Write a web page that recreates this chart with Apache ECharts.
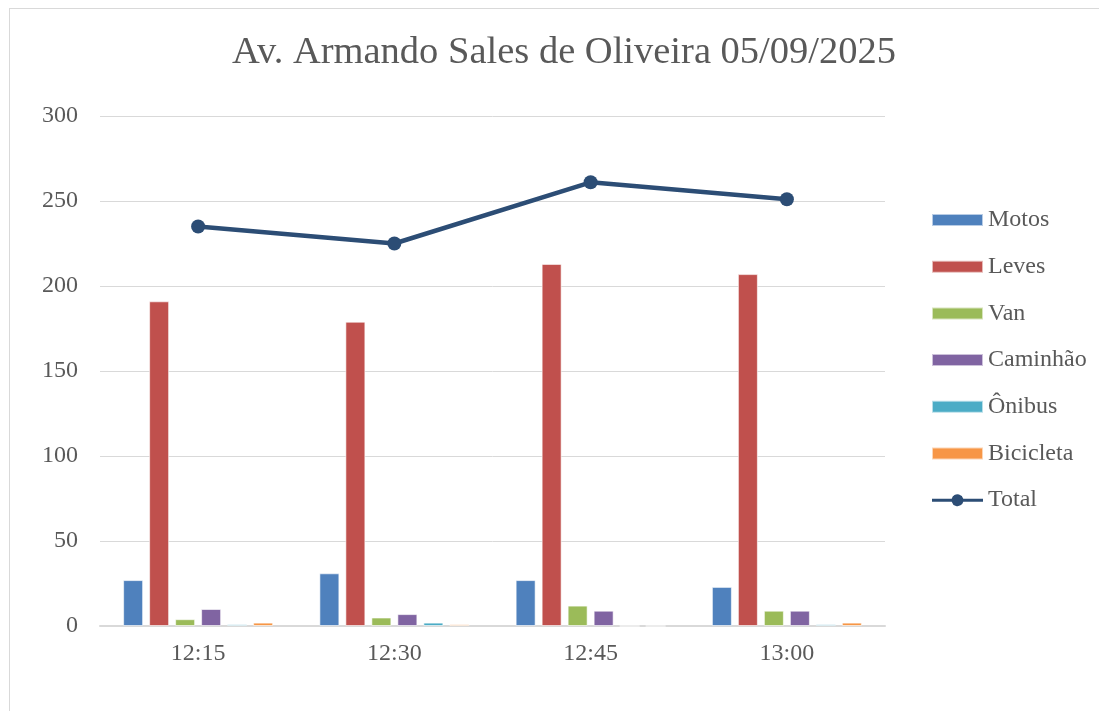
<!DOCTYPE html>
<html>
<head>
<meta charset="utf-8">
<script src="https://cdn.jsdelivr.net/npm/echarts@6/dist/echarts.min.js"></script>
<style>
  html, body { margin: 0; padding: 0; background: #fff; }
  #frame { position: absolute; left: 9px; top: 8px; width: 1100px; height: 710px; border: 1px solid #d9d9d9; box-sizing: border-box; }
  #chart { position: absolute; left: 0; top: 0; width: 1099px; height: 711px; }
</style>
</head>
<body>
<div id="frame"></div>
<div id="chart"></div>
<script>
const categories = ['12:15', '12:30', '12:45', '13:00']
const motos = [27, 31, 27, 23]
const leves = [191, 179, 213, 207]
const van = [4, 5, 12, 9]
const caminhao = [10, 7, 9, 9]
const onibus = [1, 2, 0, 1]
const bicicleta = [2, 1, 0, 2]
const total = [235, 225, 261, 251]
const yTicks = [0, 50, 100, 150, 200, 250, 300]

const font = 'Liberation Serif, DejaVu Serif, serif'
const textColor = '#595959'

const bars = [
  { name: 'Motos', color: '#4f81bd', data: motos },
  { name: 'Leves', color: '#c0504d', data: leves },
  { name: 'Van', color: '#9bbb59', data: van },
  { name: 'Caminhão', color: '#8064a2', data: caminhao },
  { name: 'Ônibus', color: '#4bacc6', data: onibus },
  { name: 'Bicicleta', color: '#f79646', data: bicicleta }
]

// línea con círculo para la leyenda del Total (51x12)
const totalIcon = 'path://M0,4.5 L19.7,4.5 A6,6 0 0 1 31.3,4.5 L51,4.5 L51,7.5 L31.3,7.5 A6,6 0 0 1 19.7,7.5 L0,7.5 Z'

const chart = echarts.init(document.getElementById('chart'))

const option = {
  animation: false,
  title: {
    text: 'Av. Armando Sales de Oliveira 05/09/2025',
    left: 559,
    textAlign: 'center',
    top: 28,
    textStyle: { fontFamily: font, fontSize: 38.5, fontWeight: 'normal', color: textColor }
  },
  grid: { left: 100, right: 214, top: 116, bottom: 85 },
  legend: {
    orient: 'vertical',
    left: 926,
    top: 203,
    itemWidth: 51,
    itemHeight: 12,
    itemGap: 22.7,
    textStyle: { fontFamily: font, fontSize: 24, lineHeight: 24, color: textColor },
    data: bars.map(b => ({ name: b.name, icon: 'rect' })).concat([{
      name: 'Total',
      icon: totalIcon,
      itemStyle: { color: '#2c4d75' }
    }])
  },
  xAxis: {
    type: 'category',
    data: categories,
    axisLine: { lineStyle: { color: '#d9d9d9', width: 2 } },
    axisTick: { show: false },
    axisLabel: { fontFamily: font, fontSize: 24, color: textColor, margin: 16 }
  },
  yAxis: {
    type: 'value',
    min: yTicks[0],
    max: yTicks[yTicks.length - 1],
    interval: 50,
    axisLine: { show: false },
    axisTick: { show: false },
    axisLabel: { fontFamily: font, fontSize: 24, color: textColor, margin: 22 },
    splitLine: { lineStyle: { color: '#d9d9d9', width: 1 } }
  },
  series: bars.map(b => ({
    name: b.name,
    type: 'bar',
    data: b.data,
    barWidth: 20,
    barGap: '30%',
    itemStyle: { color: b.color, borderColor: 'rgba(255,255,255,0.6)', borderWidth: 1 }
  })).concat([{
    name: 'Total',
    type: 'line',
    data: total,
    symbol: 'circle',
    symbolSize: 14,
    lineStyle: { color: '#2c4d75', width: 4.5 },
    itemStyle: { color: '#2c4d75' },
    z: 5
  }])
}

chart.setOption(option)
</script>
</body>
</html>
